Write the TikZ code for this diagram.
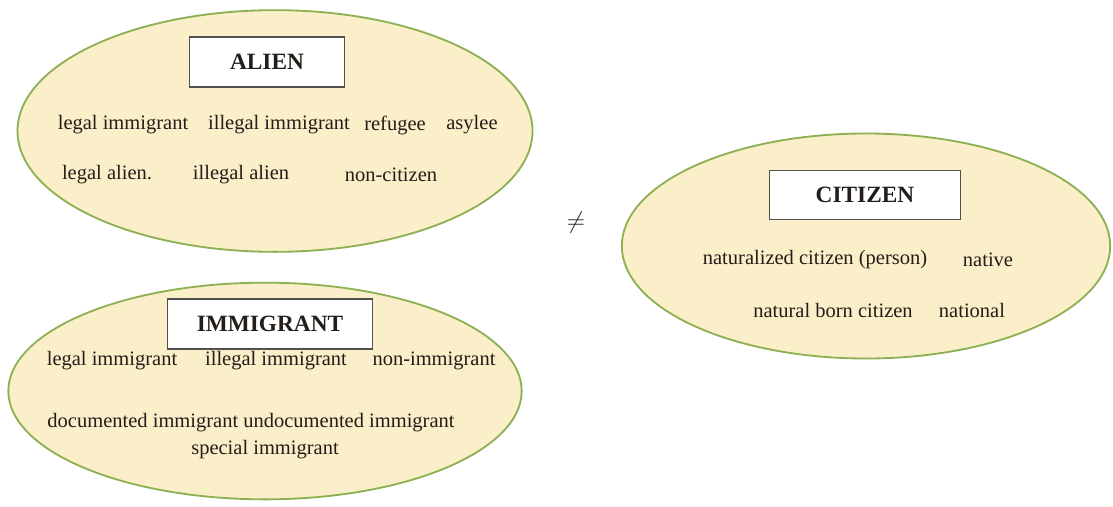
\documentclass[tikz,border=0pt]{standalone}
\usepackage{fontspec}
\setmainfont{Liberation Serif}
\usetikzlibrary{shapes.geometric}
\definecolor{ovalfill}{RGB}{250,239,201}
\definecolor{ovaldraw}{RGB}{140,176,82}
\definecolor{boxdraw}{RGB}{80,80,80}
\definecolor{txt}{RGB}{35,30,25}

\begin{document}
\begin{tikzpicture}[x=0.6pt,y=-0.6pt,
  oval/.style={ellipse,draw=ovaldraw,fill=ovalfill,line width=1.1pt,inner sep=0pt},
  title/.style={draw=boxdraw,fill=white,line width=1.1pt,font=\fontsize{14}{16}\selectfont\bfseries,text=txt,inner sep=0pt},
  term/.style={font=\fontsize{12.3}{14}\selectfont,text=txt,inner sep=1pt}]

\useasboundingbox (0,0) rectangle (1113,506);

% 1
\node[oval,minimum width=309pt,minimum height=145pt] (AL) at (275,131) {};
\node[title,minimum width=93pt,minimum height=30pt] (ALt) at (267,62) {ALIEN};
\node[term] (A1) at (123,125) {legal immigrant};
\node[term] (A2) at (279,125) {illegal immigrant};
\node[term] (A3) at (395,125) {refugee};
\node[term] (A4) at (472,125) {asylee};
\node[term] (A5) at (107,175) {legal alien.};
\node[term] (A6) at (241,175) {illegal alien};
\node[term] (A7) at (391,175) {non-citizen};

% 2
\node[oval,minimum width=308pt,minimum height=130pt] (IM) at (265,391) {};
\node[title,minimum width=123pt,minimum height=30pt] (IMt) at (270,324) {IMMIGRANT};
\node[term] (I1) at (112,361) {legal immigrant};
\node[term] (I2) at (276,361) {illegal immigrant};
\node[term] (I3) at (434,361) {non-immigrant};
\node[term] (I4) at (251,423) {documented immigrant undocumented immigrant};
\node[term] (I5) at (265,450) {special immigrant};

% 3
\node[oval,minimum width=293pt,minimum height=135pt] (CI) at (866,246) {};
\node[title,minimum width=114.6pt,minimum height=29.4pt] (CIt) at (865,195) {CITIZEN};
\node[term] (C1) at (815,260) {naturalized citizen (person)};
\node[term] (C2) at (988,260) {native};
\node[term] (C3) at (833,310) {natural born citizen};
\node[term] (C4) at (972,310) {national};

\node[text=txt,font=\Large] (ne) at (576,222) {$\neq$};

\end{tikzpicture}
\end{document}
